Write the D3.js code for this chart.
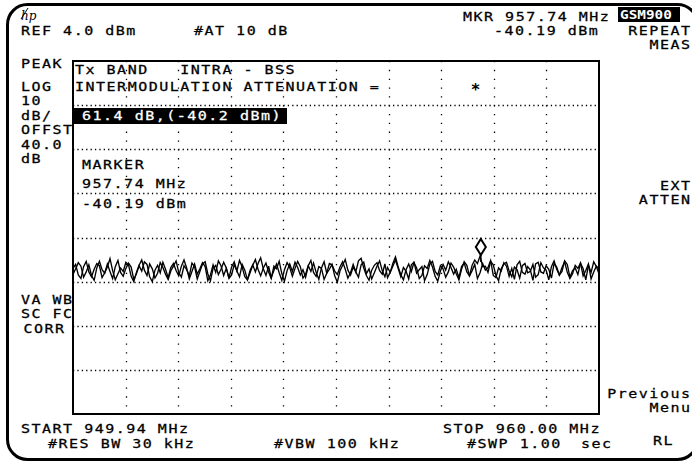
<!DOCTYPE html>
<html><head><meta charset="utf-8">
<script src="https://cdn.jsdelivr.net/npm/d3@7"></script>
<style>
html,body{margin:0;padding:0;background:#fff;}
text{font-family:"DejaVu Sans Mono",monospace;font-size:12px;fill:#000;}
</style></head>
<body><svg id="c" width="692" height="464"></svg>
<script>
// ---- data ----
const startFreq = 949.94, stopFreq = 960.00;   // MHz
const refLevel = 4.0, dbPerDiv = 10, vDivs = 8, hDivs = 10;
const markerFreq = 957.74, markerLevel = -40.19;
const traceA = [
-43.0,-42.1,-44.5,-45.3,-42.6,-41.4,-43.8,-44.9,-43.2,-41.9,-42.4,-45.1,-44.0,-42.7,-40.8,-43.5,-45.6,-44.2,-42.9,-43.7,
-41.6,-42.2,-44.8,-46.0,-43.9,-42.3,-41.1,-43.4,-44.6,-42.0,-43.1,-45.2,-44.1,-41.7,-42.8,-44.3,-45.5,-43.6,-42.5,-41.3,
-43.9,-45.0,-42.4,-43.3,-44.7,-41.8,-42.6,-45.4,-43.7,-42.0,-41.5,-44.2,-45.8,-43.0,-42.3,-44.4,-43.2,-41.6,-42.9,-45.3,
-44.5,-42.1,-43.6,-41.2,-42.7,-44.9,-45.6,-43.4,-42.2,-43.8,-41.9,-40.6,-43.1,-44.6,-42.5,-45.1,-43.5,-42.0,-44.0,-45.7,
-43.3,-41.7,-42.8,-44.8,-43.0,-41.4,-42.6,-45.2,-44.3,-42.4,-43.7,-41.8,-43.9,-45.5,-42.9,-41.5,-44.1,-43.2,-42.1,-44.7,
-46.1,-43.6,-42.3,-41.0,-43.4,-44.5,-42.7,-43.8,-45.0,-42.2,-41.6,-44.2,-43.1,-45.4,-44.0,-42.5,-41.3,-43.5,-44.9,-42.8,
-43.9,-41.9,-40.4,-42.6,-44.4,-45.6,-43.3,-42.0,-43.7,-41.7,-42.9,-45.3,-44.6,-42.4,-43.0,-41.2,-42.7,-44.8,-45.9,-43.6,
-42.1,-43.4,-41.5,-42.8,-44.3,-43.2,-45.1,-42.6,-41.8,-43.8,-44.7,-42.3,-41.1,-41.9,-40.2,-42.6,-42.5,-43.9,-41.4,-42.2,
-44.6,-45.8,-43.1,-42.0,-41.6,-43.6,-44.9,-42.7,-43.3,-45.2,-42.4,-41.9,-44.0,-43.7,-42.1,-45.0,-44.4,-41.7,-42.9,-43.4,
-45.6,-42.6,-41.3,-43.2,-44.5,-42.8,-41.5,-43.9,-45.3,-44.2,-42.3,-43.0,-41.8,-44.7,-43.5,-42.0,-45.4,-43.8,-42.5,-43.1];
const traceB = [
-44.4,-43.1,-41.7,-42.5,-45.0,-43.8,-42.2,-44.6,-45.7,-42.9,-41.4,-43.3,-44.1,-42.0,-43.7,-45.3,-42.6,-41.2,-43.9,-44.8,
-43.0,-41.8,-42.7,-45.5,-44.2,-42.4,-43.6,-41.5,-42.1,-44.9,-46.0,-43.4,-42.3,-44.0,-41.6,-43.2,-45.1,-42.8,-41.9,-43.5,
-44.7,-42.5,-41.1,-42.9,-45.4,-43.7,-42.0,-44.3,-43.1,-41.7,-42.6,-45.8,-44.5,-42.2,-43.9,-41.3,-42.4,-44.6,-43.0,-45.2,
-42.7,-41.5,-43.6,-44.9,-42.1,-43.4,-45.6,-44.0,-42.3,-41.0,-43.2,-44.7,-42.9,-41.8,-43.8,-45.3,-42.5,-43.1,-41.4,-44.2,
-45.9,-43.5,-42.0,-43.7,-41.6,-42.8,-44.5,-43.3,-45.0,-42.4,-41.2,-43.9,-44.8,-42.6,-43.0,-45.5,-44.1,-41.9,-42.2,-43.6,
-44.4,-42.7,-41.5,-43.2,-45.2,-44.0,-42.1,-43.8,-41.3,-40.7,-42.9,-44.6,-45.7,-43.4,-42.3,-41.7,-43.5,-44.3,-42.0,-45.1,
-43.9,-42.5,-41.1,-43.0,-44.9,-42.8,-43.6,-45.4,-42.2,-41.6,-44.1,-43.3,-42.6,-45.8,-44.4,-42.0,-41.4,-43.7,-44.5,-42.4,
-43.1,-45.0,-43.8,-41.8,-42.7,-44.2,-45.6,-43.2,-41.5,-42.3,-44.7,-43.5,-42.1,-45.3,-44.0,-41.9,-43.4,-42.8,-41.2,-44.6,
-45.1,-42.9,-43.6,-41.7,-42.5,-44.8,-43.0,-45.5,-42.2,-41.4,-43.9,-44.3,-42.6,-43.3,-45.7,-42.0,-41.6,-43.8,-44.1,-42.4,
-43.2,-45.2,-41.9,-42.7,-44.5,-43.7,-41.3,-42.1,-45.0,-43.5,-42.9,-44.4,-41.8,-43.1,-45.6,-42.3,-43.9,-41.5,-42.6,-44.2];

const topTexts = ["REF 4.0 dBm", "#AT 10 dB", "MKR 957.74 MHz", "-40.19 dBm", "GSM900"];
const leftLabels = ["PEAK", "LOG", "10", "dB/", "OFFST", "40.0", "dB"];
const leftLower = ["VA WB", "SC FC", "CORR"];
const boxLines = ["Tx BAND   INTRA - BSS", "INTERMODULATION ATTENUATION ="];
const resultText = "61.4 dB,(-40.2 dBm)";
const markerLines = ["MARKER", "957.74 MHz", "-40.19 dBm"];
const softKeys = [["REPEAT","MEAS"],["EXT","ATTEN"],["Previous","Menu"],["RL"]];
const bottomTexts = ["START 949.94 MHz", "STOP 960.00 MHz", "#RES BW 30 kHz", "#VBW 100 kHz", "#SWP 1.00", "sec"];

// ---- drawing ----
const svg = d3.select("#c");
const L = 73, R = 599, T = 61, B = 414;
const x = d3.scaleLinear().domain([startFreq, stopFreq]).range([L, R]);
const y = d3.scaleLinear().domain([refLevel - vDivs*dbPerDiv, refLevel]).range([B, T]);

// frame (right side runs off the picture)
svg.append("rect").attr("x",7.5).attr("y",4.5).attr("width",690).attr("height",455)
  .attr("rx",20).attr("ry",20).attr("fill","none").attr("stroke","#000").attr("stroke-width",3);

// graticule
const g = svg.append("g");
const xStep = (stopFreq - startFreq)/hDivs;
for (let k=1;k<hDivs;k++){
  const xv = Math.round(x(startFreq + k*xStep));
  g.append("line").attr("x1",xv+0.5).attr("x2",xv+0.5).attr("y1",T).attr("y2",B)
   .attr("stroke","#000").attr("stroke-width",1.3).attr("stroke-dasharray",`1.3,${(B-T)/vDivs/5-1.3}`);
}
for (let k=1;k<vDivs;k++){
  const yv = Math.round(y(refLevel - k*dbPerDiv));
  g.append("line").attr("x1",L).attr("x2",R).attr("y1",yv+0.5).attr("y2",yv+0.5)
   .attr("stroke","#000").attr("stroke-width",1.3).attr("stroke-dasharray",`1.3,${(R-L)/hDivs/12-1.3}`);
}
g.append("rect").attr("x",L).attr("y",T).attr("width",R-L).attr("height",B-T)
  .attr("fill","none").attr("stroke","#000").attr("stroke-width",2);

// traces
const xsA = d3.scaleLinear().domain([0, traceA.length-1]).range([startFreq, stopFreq]);
const xsB = d3.scaleLinear().domain([0, traceB.length-1]).range([startFreq, stopFreq]);
[[traceA,xsA],[traceB,xsB]].forEach(([tr,xs])=>{
  const line = d3.line().x((d,i)=>x(xs(i))).y(d=>y(d));
  svg.append("path").datum(tr).attr("d",line).attr("fill","none")
    .attr("stroke","#000").attr("stroke-width",1.35);
});

// marker
const mx = x(markerFreq), my = y(markerLevel);
svg.append("line").attr("x1",mx).attr("x2",mx).attr("y1",my-1).attr("y2",my+6).attr("stroke","#000").attr("stroke-width",1.5);
svg.append("path").attr("d",`M${mx},${my-17} L${mx+5},${my-9} L${mx},${my-1} L${mx-5},${my-9} Z`)
  .attr("fill","#fff").attr("stroke","#000").attr("stroke-width",2);

// text helper: monospace stretched horizontally, pitch ~10.5 px
const SX = 1.25, LS = 1.2;
const pitch = (12*0.602 + LS)*SX;
function t(str,xp,yp,opts={}){
  const gg = svg.append("g").attr("transform",`translate(${xp},${yp}) scale(${SX},1)`);
  const e = gg.append("text").attr("x",0).attr("y",0).text(str)
    .style("white-space","pre").style("letter-spacing",LS+"px")
    .style("stroke", opts.fill || "#000").style("stroke-width","0.25px");
  if(opts.fill) e.style("fill",opts.fill);
  if(opts.weight) e.style("font-weight",opts.weight);
  return e;
}
function rt(str,xr,yp){ t(str, xr - (str.length*pitch - LS*SX), yp); }

// hp logo
svg.append("text").attr("x",21).attr("y",20).text("hp")
  .style("font-family","DejaVu Serif").style("font-style","italic").style("font-size","12px");
svg.append("line").attr("x1",21).attr("x2",28).attr("y1",19).attr("y2",8).attr("stroke","#000");

t(topTexts[0],21,35);
t(topTexts[1],194,35);
t(topTexts[2],463,21);
t(topTexts[3],494,35);
svg.append("rect").attr("x",618).attr("y",7).attr("width",62).attr("height",15).attr("fill","#000");
t(topTexts[4],620,19,{fill:"#fff",weight:"bold"}).style("letter-spacing","0px").style("font-size","11.5px").style("stroke-width","0px");

const leftY = [68,91,105,120,134,149,163];
leftLabels.forEach((s,i)=>t(s,21,leftY[i]));
const lowY = [304,318,333];
t(leftLower[0],21,lowY[0]);
t(leftLower[1],21,lowY[1]);
rt(leftLower[2],64,lowY[2]);

t(boxLines[0],75,74);
t(boxLines[1],75,91);
svg.append("text").attr("x",mx-10).attr("y",95).text("*").style("font-size","16px").style("font-weight","bold");

svg.append("rect").attr("x",74).attr("y",108).attr("width",213).attr("height",16).attr("fill","#000");
t(resultText,82,120,{fill:"#fff"});

const mkY = [169,188,208];
markerLines.forEach((s,i)=>t(s,82,mkY[i]));

rt(softKeys[0][0],690,35); rt(softKeys[0][1],690,49);
rt(softKeys[1][0],690,190); rt(softKeys[1][1],690,204);
rt(softKeys[2][0],690,398); rt(softKeys[2][1],690,412);
t(softKeys[3][0],653,445);

t(bottomTexts[0],21,433);
t(bottomTexts[1],443,433);
t(bottomTexts[2],48,448);
t(bottomTexts[3],274,448);
t(bottomTexts[4],467,448);
t(bottomTexts[5],581,448);
</script></body></html>
